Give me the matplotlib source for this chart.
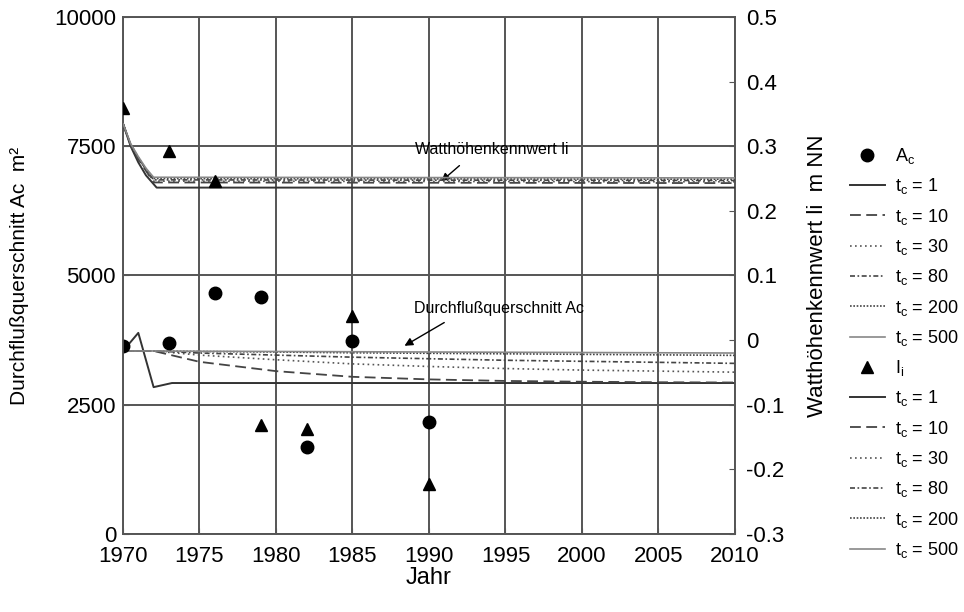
import matplotlib.pyplot as plt
from matplotlib.ticker import MultipleLocator

plt.rcParams['font.family'] = ['Liberation Sans', 'DejaVu Sans']

# Messwerte
obs_years = [1970, 1973, 1976, 1979, 1982, 1985, 1990]
ac_obs = [3640, 3690, 4660, 4580, 1680, 3730, 2170]
li_obs = [0.359, 0.293, 0.246, -0.132, -0.138, 0.037, -0.223]

# Modell Durchflussquerschnitt Ac (linke Achse)
ac_years_1 = [1970, 1971, 1972, 1973.2, 2010]
ac_tc1 = [3540, 3890, 2840, 2920, 2920]
ac_years = [1970, 1972, 1975, 1980, 1985, 1990, 1995, 2000, 2005, 2010]
ac_tc10 = [3540, 3540, 3330, 3150, 3040, 2990, 2960, 2945, 2935, 2930]
ac_tc30 = [3540, 3540, 3460, 3370, 3290, 3240, 3200, 3170, 3150, 3130]
ac_tc80 = [3540, 3540, 3500, 3460, 3420, 3390, 3360, 3340, 3320, 3300]
ac_tc200 = [3540, 3540, 3530, 3520, 3505, 3495, 3485, 3475, 3465, 3455]
ac_tc500 = [3540, 3540, 3535, 3530, 3525, 3520, 3515, 3510, 3505, 3500]

# Modell Watthoehenkennwert li (rechte Achse)
li_years_1 = [1970, 1970.5, 1971, 1971.5, 1972.2, 2010]
li_tc1 = [0.335, 0.300, 0.275, 0.255, 0.236, 0.236]
li_years = [1970, 1970.5, 1971, 1971.5, 1972, 2010]
li_tc10 = [0.335, 0.302, 0.280, 0.262, 0.244, 0.243]
li_tc30 = [0.335, 0.302, 0.281, 0.263, 0.246, 0.245]
li_tc80 = [0.335, 0.303, 0.282, 0.264, 0.248, 0.247]
li_tc200 = [0.335, 0.303, 0.283, 0.265, 0.250, 0.249]
li_tc500 = [0.335, 0.304, 0.284, 0.266, 0.252, 0.251]

tc_labels = ['1', '10', '30', '80', '200', '500']
styles = [
    dict(color='#333333', lw=1.4, ls='-'),
    dict(color='#444444', lw=1.3, ls=(0, (6, 3))),
    dict(color='#555555', lw=1.2, ls=(0, (1, 2))),
    dict(color='#444444', lw=1.2, ls=(0, (3, 1.5, 1, 1.5))),
    dict(color='#444444', lw=1.2, ls=(0, (1, 1))),
    dict(color='#888888', lw=1.2, ls='-'),
]

fig = plt.figure(figsize=(9.64, 6.12), dpi=100)
ax = fig.add_axes([0.1276, 0.1275, 0.6348, 0.8447])
ax2 = ax.twinx()

grid_c = '#555555'
ax.set_xlim(1970, 2010)
ax.set_ylim(0, 10000)
ax2.set_ylim(-0.3, 0.5)
ax.xaxis.set_major_locator(MultipleLocator(5))
ax.yaxis.set_major_locator(MultipleLocator(2500))
ax.grid(True, color=grid_c, lw=1.4)
ax.set_axisbelow(True)
for a in (ax, ax2):
    for s in a.spines.values():
        s.set_color(grid_c)
        s.set_linewidth(1.2)
ax.tick_params(direction='in', length=4, labelsize=16, color=grid_c, pad=5)
ax.tick_params(axis='x', pad=9)
ax2.tick_params(direction='in', length=4, labelsize=16, color=grid_c, pad=8)
ax2.set_yticks([-0.3, -0.2, -0.1, 0, 0.1, 0.2, 0.3, 0.4, 0.5])
ax2.set_yticklabels(['-0.3', '-0.2', '-0.1', '0', '0.1', '0.2', '0.3', '0.4', '0.5'])

handles = []
h, = ax.plot(obs_years, ac_obs, 'o', color='black', ms=9, ls='none', zorder=5)
handles.append(h)
ac_sets = [(ac_years_1, ac_tc1), (ac_years, ac_tc10), (ac_years, ac_tc30),
           (ac_years, ac_tc80), (ac_years, ac_tc200), (ac_years, ac_tc500)]
for (xs, ys), st in zip(ac_sets, styles):
    h, = ax.plot(xs, ys, **st, zorder=3)
    handles.append(h)

h, = ax2.plot(obs_years, li_obs, '^', color='black', ms=9, ls='none', zorder=5)
handles.append(h)
li_sets = [(li_years_1, li_tc1), (li_years, li_tc10), (li_years, li_tc30),
           (li_years, li_tc80), (li_years, li_tc200), (li_years, li_tc500)]
for (xs, ys), st in zip(li_sets, styles):
    h, = ax2.plot(xs, ys, **st, zorder=3)
    handles.append(h)

labels = [r'$\mathregular{A_c}$'] + [r'$\mathregular{t_c}$ = ' + t for t in tc_labels] + \
         [r'$\mathregular{I_i}$'] + [r'$\mathregular{t_c}$ = ' + t for t in tc_labels]
fig.legend(handles, labels, loc='upper left', bbox_to_anchor=(0.874, 0.773),
           frameon=False, fontsize=13, labelspacing=0.57, handlelength=1.95,
           handletextpad=0.55, borderaxespad=0)

ax.annotate('Watthöhenkennwert li', xy=(1990.8, 6820), xytext=(1989.1, 7430),
            fontsize=11.5, va='center', ha='left',
            arrowprops=dict(arrowstyle='-|>', color='black', lw=1, shrinkA=6,
                            shrinkB=0, mutation_scale=12, relpos=(0.35, 0)))
ax.annotate('Durchflußquerschnitt Ac', xy=(1988.4, 3640), xytext=(1989.0, 4370),
            fontsize=11.5, va='center', ha='left',
            arrowprops=dict(arrowstyle='-|>', color='black', lw=1, shrinkA=6,
                            shrinkB=0, mutation_scale=12, relpos=(0.25, 0)))

ax.set_xlabel('Jahr', fontsize=17, labelpad=0)
ax.set_ylabel('Durchflußquerschnitt Ac  m²', fontsize=15, labelpad=18)
ax2.set_ylabel('Watthöhenkennwert li  m NN', fontsize=16, labelpad=16)

fig.savefig('out.png', dpi=100, facecolor='white')
